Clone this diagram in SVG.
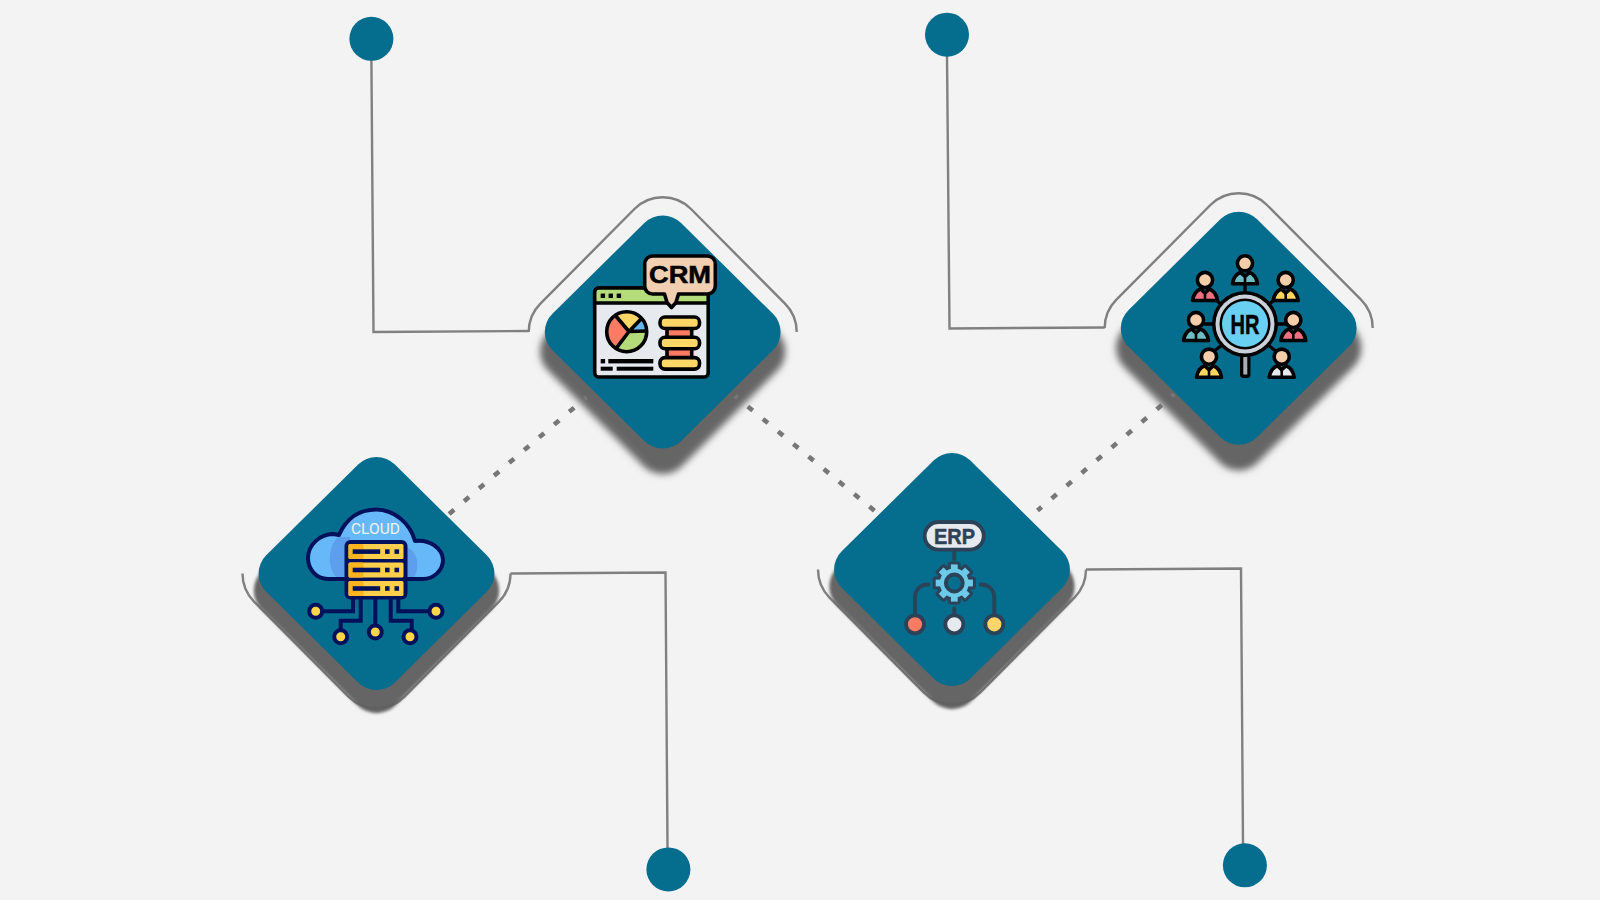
<svg xmlns="http://www.w3.org/2000/svg" xmlns:xlink="http://www.w3.org/1999/xlink" width="1600" height="900" viewBox="0 0 1600 900">
<style>
.leader{fill:none;stroke:#808080;stroke-width:2.4}
.dots{fill:none;stroke:#777;stroke-width:4.6;stroke-dasharray:6.5 13.2;stroke-dashoffset:3.25}
.dot{fill:#056d8e}
.dia{fill:#056d8e}
.sh{fill:#5f5f5f;fill-opacity:.96}
.k{stroke:#000;stroke-width:3.6}
.n{stroke:#00115b;stroke-width:4}
.s{stroke:#2b4259;stroke-width:3.8}
.ln{fill:none;stroke-linecap:round}
.t{font-family:"Liberation Sans",Arial,sans-serif;font-weight:700;text-anchor:middle;stroke-width:.5;stroke:currentColor}
</style>
<defs>
<rect id="diamond" x="-91" y="-91" width="182" height="182" rx="26" transform="rotate(45)"/>
<path id="arc" d="M-134,0A40,40 0 0 1 -122.3,-28.3L-28.3,-123A40,40 0 0 1 28.3,-123L122.3,-28.3A40,40 0 0 1 134,0"/>
<filter id="b1" x="-20%" y="-20%" width="140%" height="140%"><feGaussianBlur stdDeviation="3.5"/></filter>
<filter id="b2" x="-20%" y="-20%" width="140%" height="140%"><feGaussianBlur stdDeviation="1.6"/></filter>
<g id="person">
<path d="M-12.5,20.5Q-11,11.5 -4.5,9L0,13L4.5,9Q11,11.5 12.5,20.5Z" class="k" stroke-linejoin="round"/>
<path d="M0,13V20.5" stroke="#000" stroke-width="2.6"/>
<circle r="7.6" fill="#f4cdaa" class="k"/>
</g>
<g id="gear">
<circle r="14.5"/>
<g id="tooth"><rect x="-3.4" y="-18.6" width="6.8" height="8"/></g>
<use href="#tooth" transform="rotate(45)"/><use href="#tooth" transform="rotate(90)"/><use href="#tooth" transform="rotate(135)"/><use href="#tooth" transform="rotate(180)"/><use href="#tooth" transform="rotate(225)"/><use href="#tooth" transform="rotate(270)"/><use href="#tooth" transform="rotate(315)"/>
</g>
</defs>
<rect width="1600" height="900" fill="#f3f3f3"/>

<g id="node-crm">
<use href="#diamond" class="sh" filter="url(#b1)" transform="translate(662.7 351.5) scale(1.04)"/>
<use href="#diamond" class="dia" transform="translate(662.7 332) scale(1 .988)"/>
<rect x="594.7" y="288" width="113.5" height="89" rx="4" fill="#e6e9ed" class="k" stroke-width="4"/>
<path d="M594.7,303V292a4,4 0 0 1 4,-4H704.2a4,4 0 0 1 4,4V303Z" fill="#b4dc7a" class="k"/>
<g><rect x="600.7" y="293.6" width="4.4" height="4.4"/><rect x="608.6" y="293.6" width="4.4" height="4.4"/><rect x="616.7" y="293.6" width="4.4" height="4.4"/></g>
<path d="M652.7,256H707.3a8,8 0 0 1 8,8V286a8,8 0 0 1 -8,8H678.5L676,302.5L671.5,307.5L667,302.5L664.5,294H652.7a8,8 0 0 1 -8,-8V264a8,8 0 0 1 8,-8Z" fill="#f2cfb0" class="k" stroke-width="4" stroke-linejoin="round"/>
<text class="t" x="680" y="283" font-size="23" fill="#000" color="#000" textLength="62" lengthAdjust="spacingAndGlyphs">CRM</text>
<path d="M629,331.5L615.4,315.5A20,20 0 0 0 615.8,348.8Z" fill="#fb7b63"/>
<path d="M629,331.5L615.4,315.5A20,20 0 0 1 641.5,318.6Z" fill="#ffd766"/>
<path d="M629,331.5L641.5,318.6A20,20 0 0 1 646.7,331Z" fill="#65b5ee"/>
<path d="M629,331.5L646.7,331A20,20 0 0 1 615.8,348.8Z" fill="#b4dc7a"/>
<path d="M615.4,315.5L629,331.5L641.5,318.6M629,331.5L646.7,331M629,331.5L615.8,348.8" fill="none" class="k" stroke-width="3.4"/>
<circle cx="626.7" cy="331.7" r="20" fill="none" class="k" stroke-width="4"/>
<rect x="667" y="327" width="24.7" height="11" fill="#fb7b63" class="k"/>
<rect x="667" y="347" width="24.7" height="11" fill="#fb7b63" class="k"/>
<rect x="660" y="317" width="39.5" height="11.5" rx="5" fill="#ffd766" class="k" stroke-width="4"/>
<rect x="660" y="337.3" width="39.5" height="11.5" rx="5" fill="#ffd766" class="k" stroke-width="4"/>
<rect x="660" y="357.6" width="39.5" height="11.5" rx="5" fill="#ffd766" class="k" stroke-width="4"/>
<g><rect x="600.7" y="359" width="4.4" height="4.4"/><rect x="608.3" y="359" width="45" height="4.4"/><rect x="600.7" y="366.7" width="12" height="4"/><rect x="616.7" y="366.7" width="36.6" height="4"/></g>
</g>

<g id="node-hr">
<use href="#diamond" class="sh" filter="url(#b1)" transform="translate(1238.7 347.8) scale(1.04)"/>
<use href="#diamond" class="dia" transform="translate(1238.7 328.3) scale(1 .988)"/>
<path d="M1245,284V294M1213.5,298L1222,305M1277,298L1268,305M1204,324H1215M1276,324H1287M1213,352L1222,345M1277,352L1268,345" fill="none" stroke="#000" stroke-width="3.4"/>
<use href="#person" x="1245" y="263.3" fill="#6cbcc4"/>
<use href="#person" x="1205" y="280" fill="#ed6f80"/>
<use href="#person" x="1285.7" y="280" fill="#ffd562"/>
<use href="#person" x="1196" y="320" fill="#6cbcc4"/>
<use href="#person" x="1293.3" y="320" fill="#ed6f80"/>
<use href="#person" x="1209" y="356.7" fill="#ffd562"/>
<use href="#person" x="1281.7" y="356.7" fill="#e6e9ed"/>
<rect x="1240" y="355" width="10.5" height="23" rx="3.5" fill="#000"/>
<rect x="1243.3" y="356" width="4" height="18.5" fill="#a9adb3"/>
<circle cx="1245" cy="324" r="33" fill="#000"/>
<circle cx="1245" cy="324" r="29.5" fill="#ccd1d9"/>
<circle cx="1245" cy="324" r="25.5" fill="#000"/>
<circle cx="1245" cy="324" r="23" fill="#69d0f2"/>
<text class="t" x="1245" y="334" font-size="28.5" fill="#000" color="#000" textLength="29" lengthAdjust="spacingAndGlyphs">HR</text>
</g>

<g id="connectors">
<path class="leader" d="M371.4,60L373.5,332L528.7,331"/>
<use href="#arc" class="leader" x="662.7" y="332"/>
<path class="leader" d="M947,56L949.5,328.5L1104.7,327.5"/>
<use href="#arc" class="leader" x="1238.7" y="328"/>
<path class="leader" d="M510.5,573.5L665.5,572.5L667.5,848"/>
<use href="#arc" class="leader" transform="rotate(180 376.5 573.5)" x="376.5" y="573.5"/>
<path class="leader" d="M1086,569.5L1241,568.5L1243,844"/>
<use href="#arc" class="leader" transform="rotate(180 952 569.5)" x="952" y="569.5"/>
<path class="dots" d="M586.7,397L448.6,514.3"/>
<path class="dots" d="M735,396L875.3,511.4"/>
<path class="dots" d="M1174.3,394.3L1037.5,510.4"/>
</g>

<g id="endpoints">
<circle class="dot" cx="371.4" cy="38.8" r="22"/>
<circle class="dot" cx="947" cy="34.7" r="22"/>
<circle class="dot" cx="668.4" cy="869.4" r="22"/>
<circle class="dot" cx="1244.9" cy="865.3" r="22"/>
</g>

<g id="node-cloud">
<use href="#diamond" class="sh" filter="url(#b2)" transform="translate(376.5 590.5) scale(1.04)"/>
<use href="#diamond" class="dia" transform="translate(376.5 573.5) scale(1 .988)"/>
<path d="M328,579C316,579 308,569 308,558C308,545 320,534 333,534L339,535C346,519 359,509.5 376,509.5C394,509.5 410,523 415,541C430,539 443,549 443,560C443,571 433,579 423,579Z" fill="#66b8f8" class="n" stroke-linejoin="round"/>
<path d="M338,537C329,545 326,565 336,577H350V537Z" fill="#5d9fec"/>
<path d="M408,548C418,552 420,568 414,577H405V548Z" fill="#5d9fec"/>
<text x="375.5" y="533.5" font-family="Roboto,'Liberation Sans',sans-serif" font-size="15" fill="#f2f2f2" text-anchor="middle" textLength="49" lengthAdjust="spacingAndGlyphs">CLOUD</text>
<rect x="344.5" y="540" width="63" height="59.5" rx="6" fill="#00115b"/>
<g id="srv"><rect x="348.5" y="544" width="55" height="15" rx="1.5" fill="#ffcf4b"/><rect x="348.5" y="544" width="15" height="15" rx="1.5" fill="#fbb41e"/><rect x="352.7" y="549.3" width="27.5" height="4.6" fill="#00115b"/><rect x="385" y="549.3" width="4.6" height="4.6" fill="#00115b"/><rect x="394.5" y="549.3" width="4.6" height="4.6" fill="#00115b"/></g>
<use href="#srv" y="18.4"/><use href="#srv" y="36.9"/>
<g fill="none" class="n">
<path d="M315.7,611.3H353V599"/><path d="M340.7,630V620.7H360.7V599"/><path d="M375.3,599V625"/><path d="M411.7,630V620.7H390.7V599"/><path d="M436,611.3H398.3V599"/>
</g>
<g fill="#ffd54a" class="n" stroke-width="4.5">
<circle cx="315.7" cy="611.3" r="6.5"/><circle cx="340.7" cy="636.7" r="6.5"/><circle cx="375.3" cy="632" r="6.5"/><circle cx="410" cy="636.7" r="6.5"/><circle cx="436" cy="611.3" r="6.5"/>
</g>
</g>

<g id="node-erp">
<use href="#diamond" class="sh" filter="url(#b2)" transform="translate(952 586.5) scale(1.04)"/>
<use href="#diamond" class="dia" transform="translate(952 569.5) scale(1 .988)"/>
<rect x="924.7" y="522" width="59" height="27.7" rx="13.8" fill="#e6e9ed" class="s"/>
<text class="t" x="954.5" y="544" font-size="22.5" fill="#2b4259" color="#2b4259" textLength="41" lengthAdjust="spacingAndGlyphs">ERP</text>
<path d="M954.3,551V559M954.3,608.5V614M928.3,584.5C920,584.5 915,590 915,598V613M980.7,584.5C989,584.5 994.3,590 994.3,598V613" class="ln s"/>
<use href="#gear" x="954.3" y="583" fill="#2b4259" stroke="#2b4259" stroke-width="6" stroke-linejoin="round"/>
<use href="#gear" x="954.3" y="583" fill="#6ccae8"/>
<circle cx="954.3" cy="583" r="8.5" fill="#056d8e" class="s"/>
<circle cx="915" cy="624.3" r="9" fill="#fc7b63" class="s"/>
<circle cx="954.3" cy="624.3" r="9" fill="#e6e9ed" class="s"/>
<circle cx="994.3" cy="624.3" r="9" fill="#ffd56a" class="s"/>
</g>
</svg>
